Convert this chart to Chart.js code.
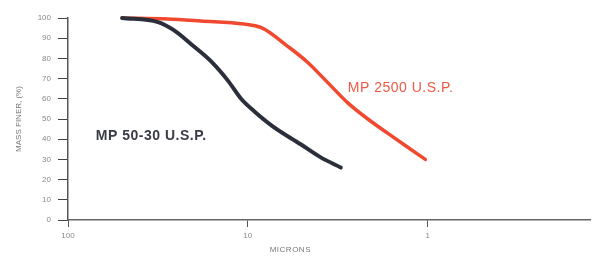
<!DOCTYPE html>
<html>
<head>
<meta charset="utf-8">
<script src="https://cdn.jsdelivr.net/npm/chart.js@4/dist/chart.umd.min.js"></script>
<style>
  html, body { margin: 0; padding: 0; background: #fff; }
  #wrap { width: 594px; height: 256px; }
</style>
</head>
<body>
<div id="wrap"><canvas id="chart"></canvas></div>
<script>
// particle size curves
const xTicks = [100, 10, 1];
const yTicks = [0, 10, 20, 30, 40, 50, 60, 70, 80, 90, 100];

const blackName = 'MP 50-30 U.S.P.';
const blackMicrons = [50, 31.6, 25.8, 20, 16, 12.9, 10.9, 9.26, 7.17, 5.08, 3.93, 3.04];
const blackMass = [100, 98, 94, 86, 78.5, 69, 60, 54, 46, 37.5, 31, 26];

const redName = 'MP 2500 U.S.P.';
const redMicrons = [50, 27.8, 18.2, 10.5, 8.3, 6.0, 4.64, 3.59, 2.78, 2.15, 1.67, 1.29, 1.03];
const redMass = [100, 99.5, 98.5, 97, 95, 86, 78, 68, 58, 50, 43, 36, 30];

const toPoints = (xs, ys) => xs.map((x, i) => ({ x: x, y: ys[i] }));

// curve labels + x title, placed through the scales
const labelsPlugin = {
    id: 'curveLabels',
    afterDatasetsDraw(chart) {
        const { ctx, scales: { x, y } } = chart;
        ctx.save();
        ctx.textBaseline = 'middle';
        ctx.textAlign = 'left';
        ctx.letterSpacing = '0.5px';
        ctx.font = 'bold 14px "Liberation Sans", Arial, sans-serif';
        ctx.fillStyle = '#3a3c46';
        ctx.fillText(blackName, x.getPixelForValue(70), y.getPixelForValue(41.6));
        ctx.font = '14px "Liberation Sans", Arial, sans-serif';
        ctx.fillStyle = '#ec5a45';
        ctx.fillText(redName, x.getPixelForValue(2.78), y.getPixelForValue(65.3));
        ctx.font = '8px "Liberation Sans", Arial, sans-serif';
        ctx.fillStyle = '#777';
        ctx.textAlign = 'center';
        ctx.fillText('MICRONS', x.getPixelForValue(5.8), 250);
        ctx.restore();
    }
};

new Chart(document.getElementById('chart'), {
    type: 'scatter',
    data: {
        datasets: [
            {
                label: blackName,
                data: toPoints(blackMicrons, blackMass),
                showLine: true,
                borderColor: '#2b2e3b',
                borderWidth: 4,
                pointRadius: 0,
                cubicInterpolationMode: 'monotone',
                borderCapStyle: 'round',
                clip: false
            },
            {
                label: redName,
                data: toPoints(redMicrons, redMass),
                showLine: true,
                borderColor: '#f0492f',
                borderWidth: 3.5,
                pointRadius: 0,
                cubicInterpolationMode: 'monotone',
                borderCapStyle: 'round',
                clip: false
            }
        ]
    },
    options: {
        responsive: true,
        maintainAspectRatio: false,
        animation: false,
        layout: { padding: { top: 18, right: 4, left: 0, bottom: 0 } },
        plugins: { legend: { display: false }, tooltip: { enabled: false } },
        scales: {
            x: {
                type: 'logarithmic',
                reverse: true,
                min: 0.125,
                max: 100,
                afterBuildTicks: (s) => { s.ticks = xTicks.map(v => ({ value: v })); },
                afterFit: (s) => { s.height = 36; },
                grid: { display: true, drawOnChartArea: false, drawTicks: true, tickLength: 7, color: '#555', lineWidth: 1 },
                border: { display: true, color: '#666', width: 1.5 },
                ticks: {
                    padding: 4,
                    color: '#888',
                    font: { size: 8, family: '"Liberation Sans", Arial, sans-serif' },
                    callback: (v) => String(v),
                    maxRotation: 0
                }
            },
            y: {
                min: 0,
                max: 100,
                afterBuildTicks: (s) => { s.ticks = yTicks.map(v => ({ value: v })); },
                afterFit: (s) => { s.width = 68; },
                grid: { display: true, drawOnChartArea: false, drawTicks: true, tickLength: 10, color: '#444', lineWidth: 1 },
                border: { display: true, color: '#555', width: 1.5 },
                title: {
                    display: true,
                    text: 'MASS FINER, (%)',
                    color: '#777',
                    font: { size: 8, family: '"Liberation Sans", Arial, sans-serif' },
                    padding: { top: 14, bottom: 0 }
                },
                ticks: {
                    padding: 7,
                    color: '#888',
                    font: { size: 8, family: '"Liberation Sans", Arial, sans-serif' }
                }
            }
        }
    },
    plugins: [labelsPlugin]
});
</script>
</body>
</html>
